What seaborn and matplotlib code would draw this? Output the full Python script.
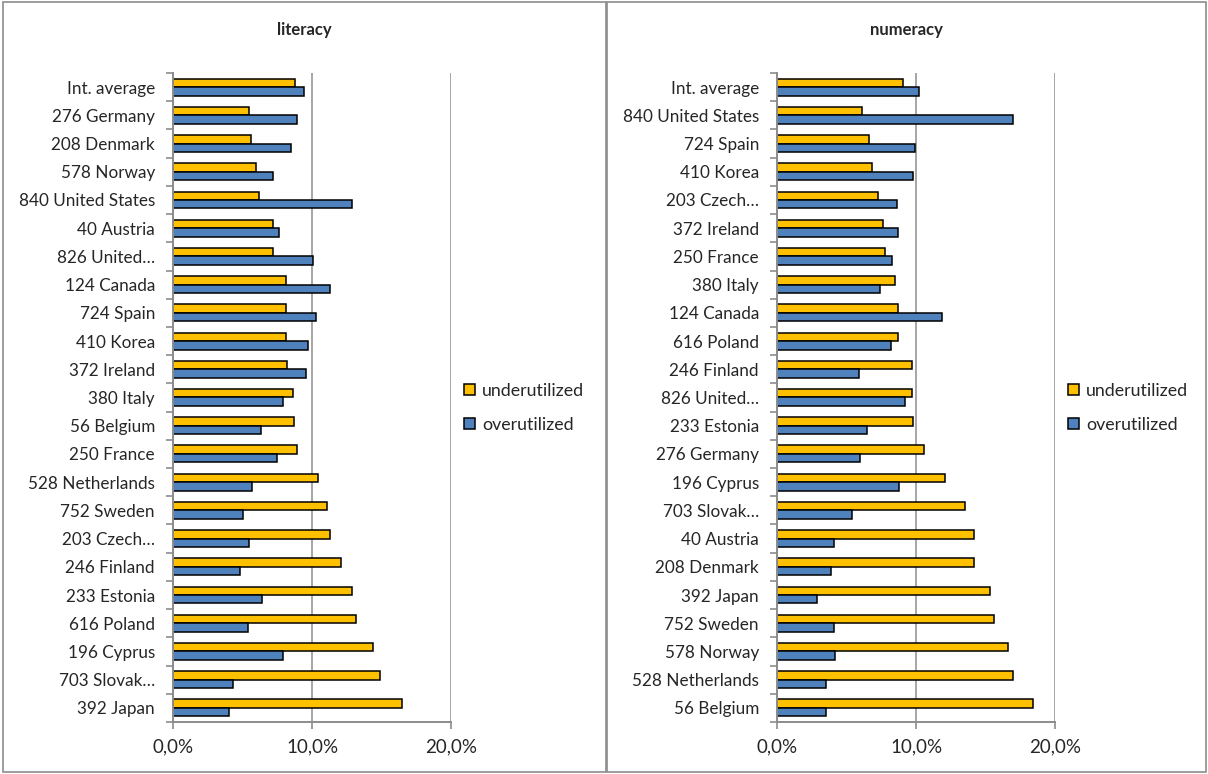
import numpy as np
import pandas as pd
import matplotlib
matplotlib.use("Agg")
import matplotlib.pyplot as plt
import seaborn as sns
from matplotlib.patches import Rectangle, Patch
from matplotlib.ticker import FuncFormatter

# Skill utilisation shares (%), by country
lit_countries = ["Int. average", "276 Germany", "208 Denmark", "578 Norway", "840 United States",
                 "40 Austria", "826 United…", "124 Canada", "724 Spain", "410 Korea",
                 "372 Ireland", "380 Italy", "56 Belgium", "250 France", "528 Netherlands",
                 "752 Sweden", "203 Czech…", "246 Finland", "233 Estonia", "616 Poland",
                 "196 Cyprus", "703 Slovak…", "392 Japan"]
lit_under = [8.8, 5.5, 5.6, 6.0, 6.2, 7.2, 7.2, 8.1, 8.1, 8.1, 8.2, 8.6, 8.7, 8.9, 10.4,
             11.1, 11.3, 12.1, 12.9, 13.2, 14.4, 14.9, 16.5]
lit_over = [9.4, 8.9, 8.5, 7.2, 12.9, 7.6, 10.1, 11.3, 10.3, 9.7, 9.6, 7.9, 6.3, 7.5, 5.7,
            5.0, 5.5, 4.8, 6.4, 5.4, 7.9, 4.3, 4.0]

num_countries = ["Int. average", "840 United States", "724 Spain", "410 Korea", "203 Czech…",
                 "372 Ireland", "250 France", "380 Italy", "124 Canada", "616 Poland",
                 "246 Finland", "826 United…", "233 Estonia", "276 Germany", "196 Cyprus",
                 "703 Slovak…", "40 Austria", "208 Denmark", "392 Japan", "752 Sweden",
                 "578 Norway", "528 Netherlands", "56 Belgium"]
num_under = [9.1, 6.1, 6.6, 6.8, 7.3, 7.6, 7.8, 8.5, 8.7, 8.7, 9.7, 9.7, 9.8, 10.6, 12.1,
             13.5, 14.2, 14.2, 15.3, 15.6, 16.6, 17.0, 18.4]
num_over = [10.2, 17.0, 9.9, 9.8, 8.6, 8.7, 8.3, 7.4, 11.9, 8.2, 5.9, 9.2, 6.5, 6.0, 8.8,
            5.4, 4.1, 3.9, 2.9, 4.1, 4.2, 3.5, 3.5]

series_names = ["underutilized", "overutilized"]
colors = {"underutilized": "#FFC000", "overutilized": "#4F81BD"}
x_ticks = [0, 10, 20]

sns.set_style("white")
plt.rcParams["font.family"] = ["Lato", "DejaVu Sans"]

W, H = 1208, 774
AX_TOP, AX_BOTTOM, AX_W = 73, 722, 278
fig = plt.figure(figsize=(W / 100, H / 100), dpi=100)


def long_frame(countries, under, over):
    return pd.DataFrame({
        "country": countries * 2,
        "value": under + over,
        "type": ["underutilized"] * len(countries) + ["overutilized"] * len(countries),
    })


def draw_panel(left_px, title, countries, under, over, panel_box):
    # panel frame
    px0, px1 = panel_box
    fig.add_artist(Rectangle((px0 / W, 2 / H), (px1 - px0) / W, (H - 4) / H,
                             transform=fig.transFigure, fill=False,
                             edgecolor="#8C8C8C", linewidth=1.2))
    fig.text((px0 + px1) / 2 / W, 1 - 30 / H, title, ha="center", va="center",
             fontsize=12, fontweight="bold")

    ax = fig.add_axes([left_px / W, 1 - AX_BOTTOM / H, AX_W / W, (AX_BOTTOM - AX_TOP) / H])
    df = long_frame(countries, under, over)
    sns.barplot(data=df, y="country", x="value", hue="type", order=countries,
                hue_order=series_names, palette=colors, saturation=1, width=0.6,
                orient="h", edgecolor="black", linewidth=1.1, legend=False, ax=ax)
    n = len(countries)
    ax.set_xlim(0, 20)
    ax.set_ylim(n - 0.5, -0.5)
    ax.set_xticks(x_ticks)
    ax.xaxis.set_major_formatter(FuncFormatter(lambda v, p: f"{v:.1f}%".replace(".", ",")))
    ax.set_xlabel("")
    ax.set_ylabel("")
    ax.grid(axis="x", color="#A6A6A6", linewidth=1.4)
    ax.grid(axis="y", visible=False)
    ax.set_axisbelow(True)
    for s in ["top", "right"]:
        ax.spines[s].set_visible(False)
    for s in ["left", "bottom"]:
        ax.spines[s].set_color("#8C8C8C")
        ax.spines[s].set_linewidth(1.4)
    ax.set_yticks(np.arange(n + 1) - 0.5, minor=True)
    ax.tick_params(axis="y", which="major", length=0, pad=13, labelsize=12.3)
    ax.tick_params(axis="y", which="minor", length=5, color="#8C8C8C", width=1.2, left=True)
    ax.tick_params(axis="x", which="major", length=5, color="#8C8C8C", width=1.2,
                   bottom=True, pad=7, labelsize=13.5)

    handles = [Patch(facecolor=colors[s], edgecolor="black", linewidth=1.1, label=s)
               for s in series_names]
    fig.legend(handles=handles, loc="center left",
               bbox_to_anchor=((left_px + AX_W + 13) / W, 1 - 408 / H),
               frameon=False, fontsize=12.8, handlelength=0.6, handleheight=0.6,
               handletextpad=0.4, labelspacing=1.0, borderaxespad=0, borderpad=0)
    return ax


draw_panel(173, "literacy", lit_countries, lit_under, lit_over, (3, 606))
draw_panel(777, "numeracy", num_countries, num_under, num_over, (607, 1206))

fig.savefig("out.png", dpi=100)
